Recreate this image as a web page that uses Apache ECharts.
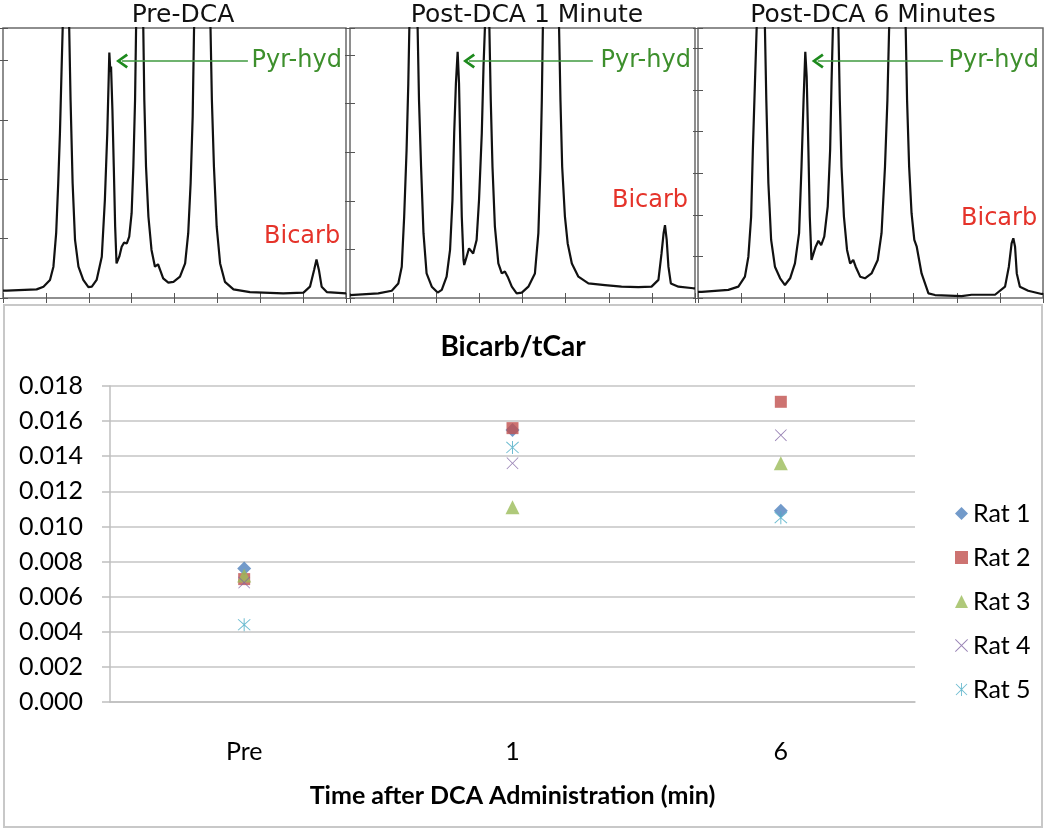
<!DOCTYPE html>
<html>
<head>
<meta charset="utf-8">
<script src="https://cdn.jsdelivr.net/npm/echarts@6/dist/echarts.min.js"></script>
<style>
html, body { margin: 0; padding: 0; background: #fff; }
#main { width: 1050px; height: 832px; }
</style>
</head>
<body>
<div id="main"></div>
<script>
/* top panels: spectra, x and y in % of panel */
const panelTitles = ['Pre-DCA', 'Post-DCA 1 Minute', 'Post-DCA 6 Minutes'];

const preDCA = [
    [0, 2.7], [1.1, 2.7], [9.8, 3.2], [11.8, 4.2], [13.7, 6.7], [14.7, 11.6], [15.5, 24.0], [16.1, 42.5],
    [16.6, 61.0], [17.1, 85.7], [17.4, 99.9], [18.4, 140], [19.3, 99.9], [19.7, 73.3], [20.3, 42.5],
    [21.0, 21.5], [22.0, 11.6], [23.4, 6.7], [24.9, 4.0], [25.9, 4.2], [27.3, 6.7], [28.8, 15.3],
    [29.7, 36.3], [30.4, 61.0], [30.8, 80.7], [31.0, 90.9], [31.3, 83.8], [31.5, 85.7], [31.9, 69.6],
    [32.3, 48.6], [32.7, 26.4], [33.1, 12.8], [33.4, 12.2], [33.9, 15.3], [34.6, 19.0], [35.3, 20.5],
    [36.1, 20.2], [36.8, 22.7], [37.5, 31.4], [38.0, 48.6], [38.5, 73.3], [38.8, 99.9], [39.8, 140],
    [40.9, 99.9], [41.2, 73.3], [41.7, 48.6], [42.4, 30.1], [43.3, 17.8], [44.3, 11.6], [44.8, 11.9],
    [45.2, 12.5], [45.8, 10.4], [46.7, 7.3], [48.2, 5.7], [49.7, 6.0], [51.6, 7.9], [53.1, 12.8],
    [54.0, 24.0], [54.7, 42.5], [55.3, 67.2], [55.7, 99.9], [58.1, 140], [60.5, 99.9], [60.9, 73.3],
    [61.5, 48.6], [62.3, 26.4], [63.3, 12.8], [64.7, 6.0], [67.2, 3.2], [72.0, 2.2], [81.7, 1.7],
    [87.6, 2.0], [89.5, 4.2], [90.7, 10.4], [91.4, 14.3], [92.1, 10.4], [92.9, 4.2], [94.4, 2.2],
    [100, 1.7]
];

const post1 = [
    [0, 1.1], [0.5, 1.1], [8.2, 1.7], [12.1, 2.7], [14.0, 5.4], [15.0, 11.6], [15.7, 30.1], [16.4, 54.8],
    [16.9, 79.5], [17.2, 99.9], [18.4, 140], [19.6, 99.9], [20.0, 73.3], [20.6, 48.6], [21.3, 24.0],
    [22.2, 9.1], [23.7, 4.2], [25.4, 2.0], [26.6, 3.0], [28.0, 7.9], [29.0, 17.8], [29.7, 36.3],
    [30.2, 61.0], [30.7, 79.5], [31.2, 91.2], [31.6, 79.5], [32.0, 54.8], [32.4, 30.1], [32.9, 14.1],
    [33.1, 12.2], [33.8, 15.3], [34.5, 18.4], [34.9, 19.0], [35.7, 16.5], [36.0, 15.9], [36.7, 21.5],
    [37.4, 36.3], [38.2, 61.0], [38.7, 85.7], [39.1, 99.9], [39.8, 140], [40.4, 99.9], [40.8, 73.3],
    [41.3, 48.6], [42.0, 26.4], [43.0, 12.8], [44.0, 9.1], [44.9, 9.8], [45.7, 7.9], [46.9, 4.2],
    [48.3, 1.7], [49.8, 2.0], [51.7, 4.2], [53.6, 9.1], [54.6, 24.0], [55.2, 48.6], [55.6, 73.3],
    [55.9, 99.9], [58.3, 140], [60.6, 99.9], [61.0, 73.3], [61.5, 48.6], [62.3, 30.1], [63.1, 20.2],
    [64.3, 12.8], [66.2, 7.9], [69.1, 5.4], [73.9, 4.8], [78.7, 4.2], [83.6, 4.0], [87.4, 4.2],
    [89.4, 6.7], [90.3, 16.5], [90.9, 24.0], [91.3, 27.0], [91.8, 21.5], [92.3, 11.6], [93.0, 5.4],
    [95.2, 4.2], [99.5, 3.6], [100, 3.6]
];

const post6 = [
    [0, 2.3], [1.1, 2.3], [8.8, 3.0], [11.7, 4.2], [13.6, 7.9], [14.6, 15.3], [15.4, 30.1], [15.9, 54.8],
    [16.5, 79.5], [17.0, 99.9], [18.2, 140], [19.4, 99.9], [19.8, 73.3], [20.4, 42.5], [21.2, 21.5],
    [22.3, 11.6], [23.8, 7.3], [25.2, 4.8], [26.7, 7.3], [28.1, 12.8], [29.3, 24.0], [30.0, 48.6],
    [30.6, 73.3], [31.1, 91.2], [31.5, 82.0], [32.0, 54.8], [32.4, 30.1], [32.9, 14.1], [33.4, 14.7],
    [34.1, 19.0], [34.9, 21.2], [35.7, 19.6], [36.6, 22.7], [37.6, 33.8], [38.3, 54.8], [38.7, 79.5],
    [39.1, 99.9], [39.9, 140], [40.7, 99.9], [41.1, 73.3], [41.6, 48.6], [42.3, 30.1], [43.2, 17.8],
    [44.1, 12.8], [44.5, 13.5], [45.0, 14.1], [45.7, 11.6], [47.0, 7.9], [48.4, 7.3], [50.3, 9.1],
    [52.1, 14.1], [53.2, 24.0], [54.2, 48.6], [54.9, 73.3], [55.4, 99.9], [57.8, 140], [60.2, 99.9],
    [60.6, 73.3], [61.2, 48.6], [61.9, 31.4], [62.7, 21.5], [63.4, 19.0], [64.8, 9.1], [66.8, 1.7],
    [68.7, 1.1], [76.4, 0.7], [79.3, 1.2], [86.1, 1.2], [89.0, 4.2], [90.1, 11.6], [90.9, 20.2],
    [91.4, 22.1], [91.9, 19.0], [92.4, 9.1], [93.3, 4.2], [95.7, 2.7], [99.6, 1.5], [100, 1.5]
];

// Pyr-hyd arrow: [label end x, arrow head x, y]; Bicarb label: [right x, y]
const pyrArrows = [[71.4, 34.7, 87.8], [70.4, 34.5, 87.8], [71.0, 34.7, 87.8]];
const bicarbLabels = [[98.3, 22.5], [98.0, 36.0], [98.3, 29.2]];
const panelTickStep = [22, 18, 15.4];

/* bottom chart */
const timeCats = ['Pre', '1', '6'];
const rat1 = [0.0076, 0.0155, 0.0109];
const rat2 = [0.0070, 0.0156, 0.0171];
const rat3 = [0.0072, 0.0111, 0.0136];
const rat4 = [0.0068, 0.0136, 0.0152];
const rat5 = [0.0044, 0.0145, 0.0105];
const ratNames = ['Rat 1', 'Rat 2', 'Rat 3', 'Rat 4', 'Rat 5'];

const chevron = 'path://M10,0 L20,13 L17,15 L10,5.5 L3,15 L0,13 Z';
const xMark = 'path://M1,0 L10,9 L19,0 L20,1 L11,10 L20,19 L19,20 L10,11 L1,20 L0,19 L9,10 L0,1 Z';
const starMark = 'path://M2,1 L10,9 L18,1 L19,2 L11,10 L19,18 L18,19 L10,11 L2,19 L1,18 L9,10 L1,2 Z M9.3,0 L10.7,0 L10.7,20 L9.3,20 Z';

const panels = [
    { left: 3, width: 343, titleX: 183, data: preDCA },
    { left: 350, width: 345, titleX: 527, data: post1 },
    { left: 698, width: 345, titleX: 873, data: post6 }
];
const panelFont = 'DejaVu Sans';
const tickStyle = { color: '#555', width: 1 };

const grid = [], xAxis = [], yAxis = [], series = [], title = [];

panels.forEach((p, i) => {
    grid.push({ left: p.left, top: 28, width: p.width, height: 270, show: true, borderColor: '#6a6a6a', borderWidth: 1.5 });
    ['bottom', 'top'].forEach(pos => {
        xAxis.push({
            gridIndex: i, type: 'value', position: pos, min: 0, max: 100, interval: 12.5,
            axisLine: { show: false }, axisLabel: { show: false }, splitLine: { show: false },
            axisTick: { inside: true, length: 5, lineStyle: tickStyle }
        });
    });
    ['left', 'right'].forEach(pos => {
        yAxis.push({
            gridIndex: i, type: 'value', position: pos, min: 0, max: 100, interval: panelTickStep[i],
            axisLine: { show: false }, axisLabel: { show: false }, splitLine: { show: false },
            axisTick: { show: true, inside: true, length: 5, lineStyle: tickStyle }
        });
    });
    title.push({
        text: panelTitles[i], left: p.titleX, top: 3, textAlign: 'center', padding: 0,
        textStyle: { fontSize: 25, fontWeight: 'normal', fontFamily: panelFont, color: '#111' }
    });
    const a = pyrArrows[i], b = bicarbLabels[i];
    series.push({
        type: 'line', xAxisIndex: i * 2, yAxisIndex: i * 2, data: p.data,
        showSymbol: false, clip: true, silent: true,
        lineStyle: { color: '#111', width: 2.2 },
        markLine: {
            silent: true, symbol: ['none', 'none'],
            lineStyle: { color: '#3f9a3f', width: 1.5, type: 'solid' },
            label: { show: false },
            data: [[{ coord: [a[0], a[2]] }, { coord: [a[1], a[2]] }]]
        },
        markPoint: {
            silent: true,
            label: { show: true, position: 'left', distance: 0, fontSize: 24, fontFamily: panelFont },
            data: [
                { coord: [a[1], a[2]], symbol: chevron, symbolSize: [15, 12], symbolRotate: 90,
                  itemStyle: { color: '#1d8a1d' }, label: { show: false } },
                { coord: [98.8, a[2]], symbol: 'rect', symbolSize: 0,
                  label: { formatter: 'Pyr-hyd', color: '#3d8f2c' } },
                { coord: [b[0], b[1]], symbol: 'rect', symbolSize: 0,
                  label: { formatter: 'Bicarb', color: '#e5332a' } }
            ]
        }
    });
});

// scatter chart
const bFont = 'Lato';
grid.push({ left: 110, top: 386, width: 805, height: 316 });
xAxis.push({
    gridIndex: 3, type: 'category', data: timeCats, boundaryGap: true,
    axisLine: { lineStyle: { color: '#bfbfbf', width: 1.5 } },
    axisTick: { length: 10, lineStyle: { color: '#bfbfbf', width: 1.5 } },
    axisLabel: { fontSize: 25, color: '#000', margin: 37, fontFamily: bFont },
    name: 'Time after DCA Administration (min)', nameLocation: 'middle', nameGap: 81,
    nameTextStyle: { fontSize: 25, fontWeight: 'bold', color: '#000', fontFamily: bFont }
});
yAxis.push({
    gridIndex: 3, type: 'value', min: 0, max: 0.018, interval: 0.002,
    axisLine: { show: true, lineStyle: { color: '#bfbfbf', width: 1.5 } },
    axisTick: { show: true, length: 8, lineStyle: { color: '#bfbfbf', width: 1.5 } },
    splitLine: { lineStyle: { color: '#c4c4c4', width: 1.5 } },
    axisLabel: { fontSize: 25, color: '#000', margin: 27, fontFamily: bFont, formatter: v => v.toFixed(3) }
});
title.push({
    text: 'Bicarb/tCar', left: 513, top: 333, textAlign: 'center', padding: 0,
    textStyle: { fontSize: 28, fontWeight: 'bold', fontFamily: bFont, color: '#000' }
});

const ratData = [rat1, rat2, rat3, rat4, rat5];
const ratSymbols = ['diamond', 'rect', 'triangle', xMark, starMark];
const ratSizes = [14, 12, 14, 12, 13];
const ratColors = ['#4f81bd', '#c0504d', '#9bbb59', '#8064a2', '#4bacc6'];
ratData.forEach((d, k) => {
    series.push({
        name: ratNames[k], type: 'scatter', xAxisIndex: 6, yAxisIndex: 6,
        data: d, symbol: ratSymbols[k], symbolSize: ratSizes[k],
        itemStyle: { color: ratColors[k] }
    });
});

const chart = echarts.init(document.getElementById('main'));
chart.setOption({
    animation: false,
    backgroundColor: '#fff',
    title: title,
    grid: grid,
    xAxis: xAxis,
    yAxis: yAxis,
    legend: {
        orient: 'vertical', left: 950, top: 496, itemGap: 19, itemWidth: 13, itemHeight: 13,
        textStyle: { fontSize: 25, color: '#000', fontFamily: bFont },
        data: ratNames.map((n, k) => ({ name: n, icon: ratSymbols[k] }))
    },
    graphic: [{
        type: 'rect', shape: { x: 4, y: 305, width: 1038, height: 522 },
        style: { fill: 'none', stroke: '#c8c8c8', lineWidth: 2 }
    }],
    series: series
});
</script>
</body>
</html>
